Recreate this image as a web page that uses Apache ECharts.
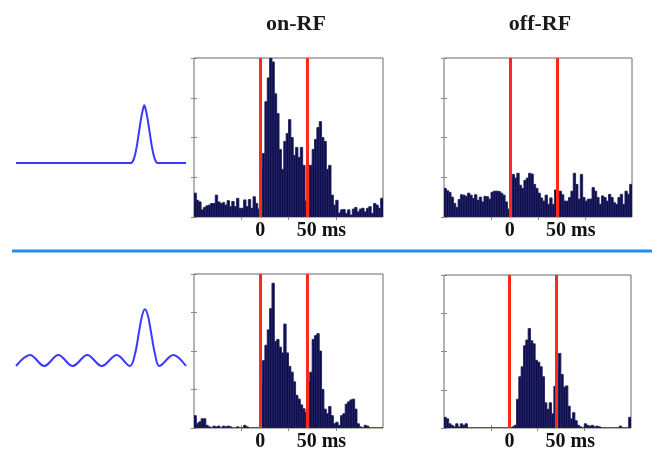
<!DOCTYPE html>
<html>
<head>
<meta charset="utf-8">
<script src="https://cdn.jsdelivr.net/npm/echarts@6/dist/echarts.min.js"></script>
<style>
  html, body { margin: 0; padding: 0; background: #fff; }
  #chart { width: 652px; height: 452px; }
</style>
</head>
<body>
<div id="chart"></div>
<script>
// ========== data ==========
const BIN_MS = 2.5;                 // histogram bin width, axis runs 0..200 ms
const STIM_MS = [70, 120];          // red markers: 0 ms and 50 ms after onset
const X_TICK_MS = [50, 100, 150];
const X_LABELS = ['0', '50 ms'];
const PANEL_TITLES = ['on-RF', 'off-RF'];

// spike counts per bin (80 bins)
const onRfSingle = [
  0.6, 0.42, 0.38, 0.18, 0.24, 0.28, 0.3, 0.34, 0.34, 0.55, 0.38, 0.34, 0.36, 0.3,
  0.41, 0.26, 0.39, 0.26, 0.47, 0.22, 0.22, 0.43, 0.26, 0.44, 0.22, 0.51, 0.34, 0.2,
  1.2, 1.6, 2.9, 3.5, 4.0, 3.9, 3.1, 2.6, 1.7, 1.2, 1.9, 2.1, 2.45, 2.0, 1.55, 1.75, 1.5, 1.75, 1.3, 0.4,
  1.3, 1.3, 1.7, 1.95, 2.25, 2.4, 2.0, 1.9, 1.2, 1.3, 0.55, 0.3, 0.42, 0.1, 0.18, 0.19,
  0.09, 0.18, 0.05, 0.2, 0.24, 0.13, 0.2, 0.22, 0.13, 0.22, 0.26, 0.09, 0.34, 0.3, 0.22, 0.47
];
const offRfSingle = [
  0.72, 0.66, 0.62, 0.5, 0.34, 0.24, 0.44, 0.56, 0.55, 0.52, 0.6, 0.55, 0.47, 0.56,
  0.42, 0.5, 0.38, 0.52, 0.51, 0.45, 0.62, 0.65, 0.65, 0.64, 0.6, 0.55, 0.38, 0.2,
  0.9, 1.07, 0.98, 1.1, 0.8, 0.72, 0.92, 0.98, 1.1, 1.08, 0.82, 0.72, 0.6, 0.48, 0.4, 0.55, 0.32, 0.48, 0.32, 0.68,
  0.6, 0.65, 0.56, 0.4, 0.4, 0.49, 0.65, 1.1, 0.82, 0.45, 1.07, 0.49, 0.4, 0.45, 0.45, 0.74,
  0.65, 0.49, 0.32, 0.53, 0.49, 0.4, 0.57, 0.49, 0.36, 0.32, 0.49, 0.57, 0.32, 0.65, 0.57, 0.82
];
const onRfTrain = [
  0.32, 0.12, 0.16, 0.24, 0.24, 0.07, 0.03, 0, 0.05, 0.03, 0.05, 0, 0.05, 0.03,
  0.05, 0.03, 0, 0, 0.03, 0, 0, 0.07, 0.03, 0, 0, 0, 0, 0,
  1.2, 1.75, 2.15, 2.55, 3.1, 3.76, 2.25, 2.3, 2.1, 1.95, 2.7, 1.95, 1.6, 1.45, 1.2, 0.85, 0.75, 0.6, 0.5, 0.4,
  1.2, 1.45, 2.3, 2.4, 2.45, 2.0, 1.0, 0.49, 0.37, 0.56, 0.32, 0.11, 0.15, 0.07, 0.32, 0.37,
  0.62, 0.68, 0.73, 0.75, 0.49, 0.11, 0.03, 0, 0.07, 0.05, 0, 0, 0, 0, 0, 0
];
const offRfTrain = [
  0.28, 0.24, 0.11, 0.07, 0.03, 0.11, 0.03, 0.11, 0.07, 0.11, 0, 0, 0, 0,
  0, 0, 0, 0, 0, 0, 0, 0, 0, 0, 0, 0, 0, 0,
  0, 0.03, 0.07, 0.75, 1.34, 1.6, 2.15, 2.3, 2.6, 2.28, 2.2, 1.77, 1.72, 1.6, 1.34, 0.66, 0.49, 0.66, 0.37, 1.09,
  1.5, 1.95, 1.4, 1.07, 1.1, 0.57, 0.24, 0.4, 0.19, 0.07, 0.03, 0, 0.11, 0.07, 0.05, 0.07,
  0.03, 0.05, 0.03, 0, 0, 0, 0, 0, 0, 0, 0, 0.05, 0, 0, 0, 0.28
];

// stimulus waveforms (left column)
const pulseX = [0, 115, 117, 119, 121, 123, 125, 127, 128.3, 129.6, 131.6, 133.6, 135.6, 137.6, 139.6, 141.6, 170];
const pulseY = [0, 0, 2, 8, 18, 31, 44, 54, 57.7, 54, 44, 31, 18, 8, 2, 0, 0];
const trainX = [0, 14, 28.3, 42.3, 56.7, 71.3, 85.7, 100.7, 114, 119, 123, 126, 129, 132, 135, 139, 143.3, 157.3, 170];
const trainY = [0, 11, 0, 11, 0, 11, 0, 11, 0, 12, 34, 50, 56.7, 50, 34, 12, 0, 11, 0];

// ========== layout ==========
const PANELS = [
  { left: 194, top: 58, width: 189, height: 159, counts: onRfSingle },
  { left: 444, top: 58, width: 188, height: 159, counts: offRfSingle },
  { left: 194, top: 274, width: 189, height: 157, counts: onRfTrain },
  { left: 444, top: 275, width: 187, height: 156, counts: offRfTrain }
];
const WAVES = [
  { left: 16, top: 103, xs: pulseX, ys: pulseY },
  { left: 16, top: 306, xs: trainX, ys: trainY }
];

const SERIF = 'Liberation Serif';
const TICK = { show: true, inside: true, length: 3, lineStyle: { color: '#8a8a8a', width: 1 } };

function renderBin(params, api) {
  const a = api.coord([api.value(0), api.value(1)]);
  const b = api.coord([api.value(0) + BIN_MS, 0]);
  return {
    type: 'rect',
    shape: { x: a[0], y: a[1], width: b[0] - a[0], height: b[1] - a[1] },
    style: { fill: '#0b0b52', stroke: '#24245e', lineWidth: 0.9 }
  };
}

const grid = [], xAxis = [], yAxis = [], series = [];

PANELS.forEach((p, i) => {
  grid.push({ left: p.left, top: p.top, width: p.width, height: p.height,
    show: true, borderColor: '#6a6a6a', borderWidth: 1, backgroundColor: '#fff' });
  const xb = xAxis.length, yb = yAxis.length;
  xAxis.push({
    type: 'value', gridIndex: i, min: 0, max: 200, interval: 50, position: 'bottom',
    axisLine: { show: false }, splitLine: { show: false },
    axisTick: Object.assign({ customValues: X_TICK_MS }, TICK),
    axisLabel: {
      customValues: STIM_MS, margin: 4, color: '#111', fontFamily: SERIF, fontWeight: 'bold', fontSize: 20,
      formatter: v => v === STIM_MS[0] ? X_LABELS[0] : '{pad|}' + X_LABELS[1],
      rich: { pad: { width: 28 } }
    }
  });
  xAxis.push({
    type: 'value', gridIndex: i, min: 0, max: 200, interval: 50, position: 'top',
    axisLine: { show: false }, splitLine: { show: false }, axisLabel: { show: false },
    axisTick: Object.assign({ customValues: X_TICK_MS }, TICK)
  });
  ['left', 'right'].forEach(pos => yAxis.push({
    type: 'value', gridIndex: i, min: 0, max: 4, interval: 1, position: pos,
    axisLine: { show: false }, splitLine: { show: false }, axisLabel: { show: false }, axisTick: TICK
  }));
  series.push({
    type: 'custom', xAxisIndex: xb, yAxisIndex: yb, renderItem: renderBin, clip: true,
    data: p.counts.map((c, k) => [k * BIN_MS, c])
  });
  series.push({
    type: 'line', xAxisIndex: xb, yAxisIndex: yb, data: [], z: 5,
    markLine: {
      silent: true, symbol: 'none', label: { show: false },
      lineStyle: { color: '#ff2a1a', width: 3, type: 'solid' },
      data: STIM_MS.map(v => ({ xAxis: v }))
    }
  });
});

WAVES.forEach(w => {
  const gi = grid.length;
  grid.push({ left: w.left, top: w.top, width: 170, height: 60 });
  xAxis.push({ type: 'value', gridIndex: gi, min: 0, max: 170, show: false });
  yAxis.push({ type: 'value', gridIndex: gi, min: 0, max: 60, show: false });
  series.push({
    type: 'line', xAxisIndex: xAxis.length - 1, yAxisIndex: yAxis.length - 1,
    data: w.xs.map((x, k) => [x, w.ys[k]]), smooth: 0.35, symbol: 'none',
    lineStyle: { color: '#3a3aff', width: 2 }
  });
});

const chart = echarts.init(document.getElementById('chart'), null, { renderer: 'canvas' });
chart.setOption({
  animation: false,
  backgroundColor: '#fff',
  title: PANEL_TITLES.map((t, i) => ({
    text: t, left: [291, 535][i], top: 8, textAlign: 'center',
    textStyle: { fontFamily: SERIF, fontWeight: 'bold', fontSize: 22, color: '#1a1a1a' }
  })),
  graphic: [{
    type: 'line', shape: { x1: 12, y1: 251, x2: 652, y2: 251 },
    style: { stroke: '#1e8cf0', lineWidth: 3 }
  }],
  grid, xAxis, yAxis, series
});
</script>
</body>
</html>
